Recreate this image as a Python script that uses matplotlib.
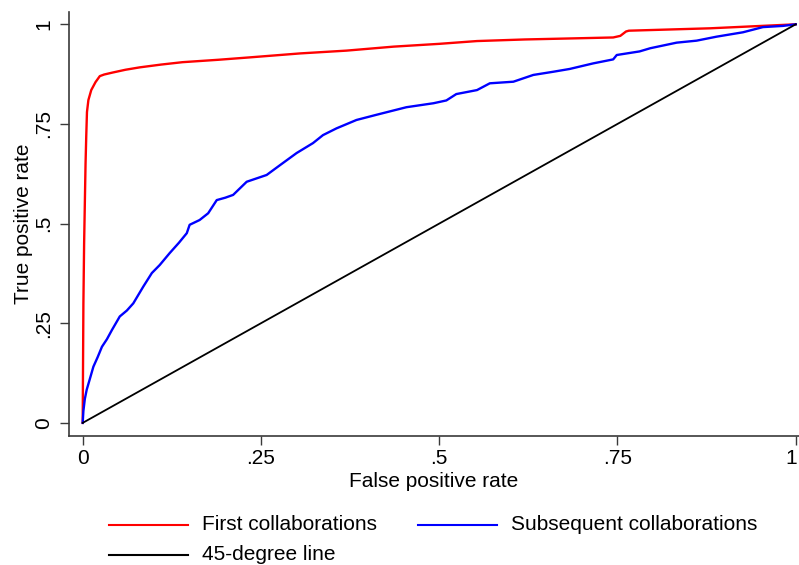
import matplotlib
matplotlib.use("Agg")
import matplotlib.pyplot as plt
import matplotlib.transforms as mtransforms
from matplotlib.lines import Line2D

plt.rcParams['font.family'] = ['Liberation Sans', 'DejaVu Sans']

# ROC curve for first collaborations (false positive rate, true positive rate)
first_fpr = [0, 0.0005, 0.001, 0.002, 0.003, 0.004, 0.005, 0.006, 0.008, 0.012,
             0.018, 0.024, 0.03, 0.042, 0.06, 0.08, 0.11, 0.14, 0.19, 0.234,
             0.305, 0.37, 0.436, 0.5, 0.553, 0.62, 0.695, 0.744, 0.754, 0.762,
             0.766, 0.88, 1.0]
first_tpr = [0, 0.15, 0.3, 0.45, 0.55, 0.65, 0.72, 0.78, 0.81, 0.835,
             0.855, 0.87, 0.874, 0.879, 0.886, 0.892, 0.899, 0.905, 0.911, 0.917,
             0.927, 0.934, 0.944, 0.951, 0.958, 0.962, 0.965, 0.967, 0.971, 0.982,
             0.984, 0.990, 1.0]

# ROC curve for subsequent collaborations
subs_fpr = [0, 0.001, 0.003, 0.0056, 0.01, 0.015, 0.021, 0.027, 0.034, 0.041,
            0.052, 0.062, 0.071, 0.085, 0.097, 0.108, 0.122, 0.135, 0.146, 0.150,
            0.164, 0.176, 0.188, 0.200, 0.211, 0.230, 0.258, 0.277, 0.300, 0.323,
            0.337, 0.356, 0.384, 0.412, 0.454, 0.492, 0.510, 0.524, 0.553, 0.571,
            0.604, 0.632, 0.660, 0.683, 0.716, 0.744, 0.749, 0.781, 0.796, 0.833,
            0.861, 0.889, 0.926, 0.954, 0.982, 1.0]
subs_tpr = [0, 0.03, 0.06, 0.083, 0.11, 0.141, 0.165, 0.191, 0.21, 0.233,
            0.267, 0.282, 0.300, 0.342, 0.376, 0.396, 0.426, 0.452, 0.476, 0.497,
            0.509, 0.526, 0.559, 0.565, 0.572, 0.605, 0.622, 0.647, 0.677, 0.702,
            0.722, 0.739, 0.760, 0.773, 0.792, 0.802, 0.809, 0.825, 0.835, 0.852,
            0.856, 0.873, 0.881, 0.888, 0.902, 0.912, 0.923, 0.932, 0.940, 0.954,
            0.959, 0.969, 0.980, 0.993, 0.996, 1.0]

diag = [0, 1]

ticks = [0, 0.25, 0.5, 0.75, 1]
tick_labels = ['0', '.25', '.5', '.75', '1']

legend_labels = ['First collaborations', 'Subsequent collaborations', '45-degree line']
colors = ['#ff0000', '#0000ff', '#000000']

W, H = 799, 565
fig = plt.figure(figsize=(W / 100, H / 100), dpi=100)
ax = fig.add_axes([69 / W, 1 - 436 / H, 730 / W, 424 / H])

ax.plot(first_fpr, first_tpr, color=colors[0], lw=1.7, solid_joinstyle='round')
ax.plot(subs_fpr, subs_tpr, color=colors[1], lw=1.7, solid_joinstyle='round')
ax.plot(diag, diag, color=colors[2], lw=1.3)

ax.set_xlim(-0.0192, 1.0046)
ax.set_ylim(-0.0329, 1.0309)

for s in ['top', 'right']:
    ax.spines[s].set_visible(False)
for s in ['left', 'bottom']:
    ax.spines[s].set_color('#3a3a3a')
    ax.spines[s].set_linewidth(1.2)

ax.set_xticks(ticks)
ax.set_xticklabels(tick_labels)
ax.set_yticks(ticks)
ax.set_yticklabels(tick_labels, rotation=90, va='center')
ax.tick_params(axis='both', length=6.5, width=1, color='#3a3a3a', labelsize=15)
ax.tick_params(axis='x', pad=3)
ax.tick_params(axis='y', pad=5)

# pull the last x label ("1") a little left so it stays inside the figure
last = ax.get_xticklabels()[-1]
last.set_transform(last.get_transform() +
                   mtransforms.ScaledTranslation(-3 / 72, 0, fig.dpi_scale_trans))

ax.set_xlabel('False positive rate', fontsize=15, labelpad=3)
ax.set_ylabel('True positive rate', fontsize=15, labelpad=1)

# legend below the plot, drawn by hand in pixel positions
rows = [(109, 525), (418, 525), (109, 555)]
for (x0, y0), lab, c in zip(rows, legend_labels, colors):
    fig.add_artist(Line2D([x0 / W, (x0 + 79) / W], [1 - y0 / H, 1 - y0 / H],
                          color=c, lw=1.5, transform=fig.transFigure))
    fig.text((x0 + 93) / W, 1 - y0 / H, lab, fontsize=15, va='center', ha='left')

fig.savefig('out.png', dpi=100)
